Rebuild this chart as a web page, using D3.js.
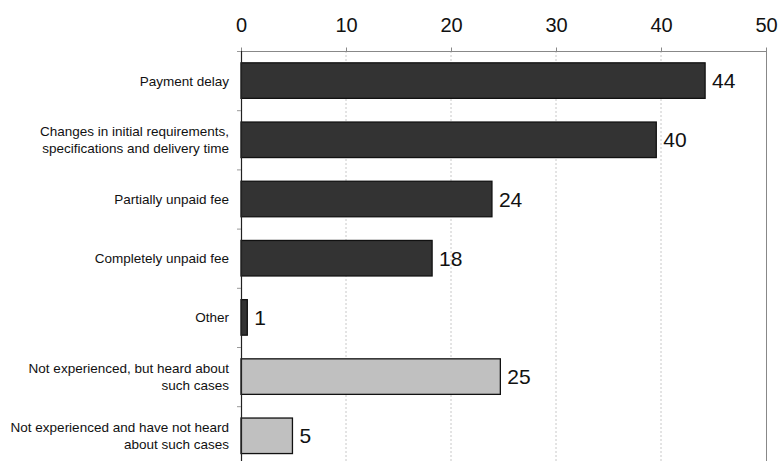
<!DOCTYPE html>
<html><head><meta charset="utf-8">
<script src="https://cdn.jsdelivr.net/npm/d3@7"></script>
<style>body{margin:0;background:#fff;} svg{display:block;}</style>
</head><body>
<svg id="c" width="779" height="461"></svg>
<script>
const categories = [
  ["Payment delay"],
  ["Changes in initial requirements,", "specifications and delivery time"],
  ["Partially unpaid fee"],
  ["Completely unpaid fee"],
  ["Other"],
  ["Not experienced, but heard about", "such cases"],
  ["Not experienced and have not heard", "about such cases"]
];
const values = [44.2, 39.55, 23.9, 18.2, 0.6, 24.7, 4.9];
const labels = ["44", "40", "24", "18", "1", "25", "5"];
const groups = ["exp", "exp", "exp", "exp", "exp", "not", "not"];
const ticks = [0, 10, 20, 30, 40, 50];

const svg = d3.select("#c");
const x = d3.scaleLinear().domain([0, 50]).range([241, 766]);
const y = d3.scaleBand().domain(d3.range(categories.length)).range([51, 51 + 59.2 * 7]).paddingInner(0.4).paddingOuter(0.2);
const fill = {exp: "#333333", not: "#c0c0c0"};
const font = "Liberation Sans, Arial, sans-serif";

// gridlines
svg.append("g").selectAll("line").data(ticks.slice(1, -1)).join("line")
  .attr("x1", d => x(d)).attr("x2", d => x(d))
  .attr("y1", 51).attr("y2", 470)
  .attr("stroke", "#c8c8c8").attr("stroke-dasharray", "2,2").attr("stroke-width", 1);

// top border and right border
svg.append("line").attr("x1", x(0)).attr("x2", x(50)).attr("y1", 51.5).attr("y2", 51.5).attr("stroke", "#888").attr("stroke-width", 1);
svg.append("line").attr("x1", x(50) + 0.5).attr("x2", x(50) + 0.5).attr("y1", 51).attr("y2", 470).attr("stroke", "#888").attr("stroke-width", 1);

// top axis
const ax = svg.append("g").attr("transform", "translate(0,51.5)")
  .call(d3.axisTop(x).tickValues(ticks).tickSize(4).tickPadding(16).tickFormat(d3.format("d")));
ax.select(".domain").remove();
ax.selectAll(".tick line").attr("stroke", "#888");
ax.selectAll("text").attr("font-family", font).attr("font-size", 20).attr("fill", "#111");

// bars
svg.append("g").selectAll("rect").data(values).join("rect")
  .attr("x", x(0)).attr("y", (d, i) => y(i))
  .attr("width", d => x(d) - x(0)).attr("height", y.bandwidth())
  .attr("fill", (d, i) => fill[groups[i]]).attr("stroke", "#111").attr("stroke-width", 1.3);

// left axis
svg.append("line").attr("x1", x(0) + 0.5).attr("x2", x(0) + 0.5).attr("y1", 51).attr("y2", 470).attr("stroke", "#222").attr("stroke-width", 1.2);
svg.append("g").selectAll("line").data(d3.range(categories.length + 1)).join("line")
  .attr("x1", x(0) - 4).attr("x2", x(0))
  .attr("y1", i => 51 + 59.2 * i + 0.5).attr("y2", i => 51 + 59.2 * i + 0.5)
  .attr("stroke", "#999");

// category labels
const cl = svg.append("g").selectAll("text").data(categories).join("text")
  .attr("x", 229).attr("text-anchor", "end")
  .attr("font-family", font).attr("font-size", 13.5).attr("fill", "#111")
  .attr("y", (d, i) => y(i) + y.bandwidth() / 2 - (d.length - 1) * 8.5 + 5);
cl.each(function(d) {
  d3.select(this).selectAll("tspan").data(d).join("tspan")
    .attr("x", 229).attr("dy", (t, j) => j === 0 ? 0 : 17).text(t => t);
});

// value labels
svg.append("g").selectAll("text").data(values).join("text")
  .attr("x", d => x(d) + 7).attr("y", (d, i) => y(i) + y.bandwidth() / 2 + 7.5)
  .attr("font-family", font).attr("font-size", 21).attr("fill", "#111")
  .text((d, i) => labels[i]);
</script>
</body></html>
